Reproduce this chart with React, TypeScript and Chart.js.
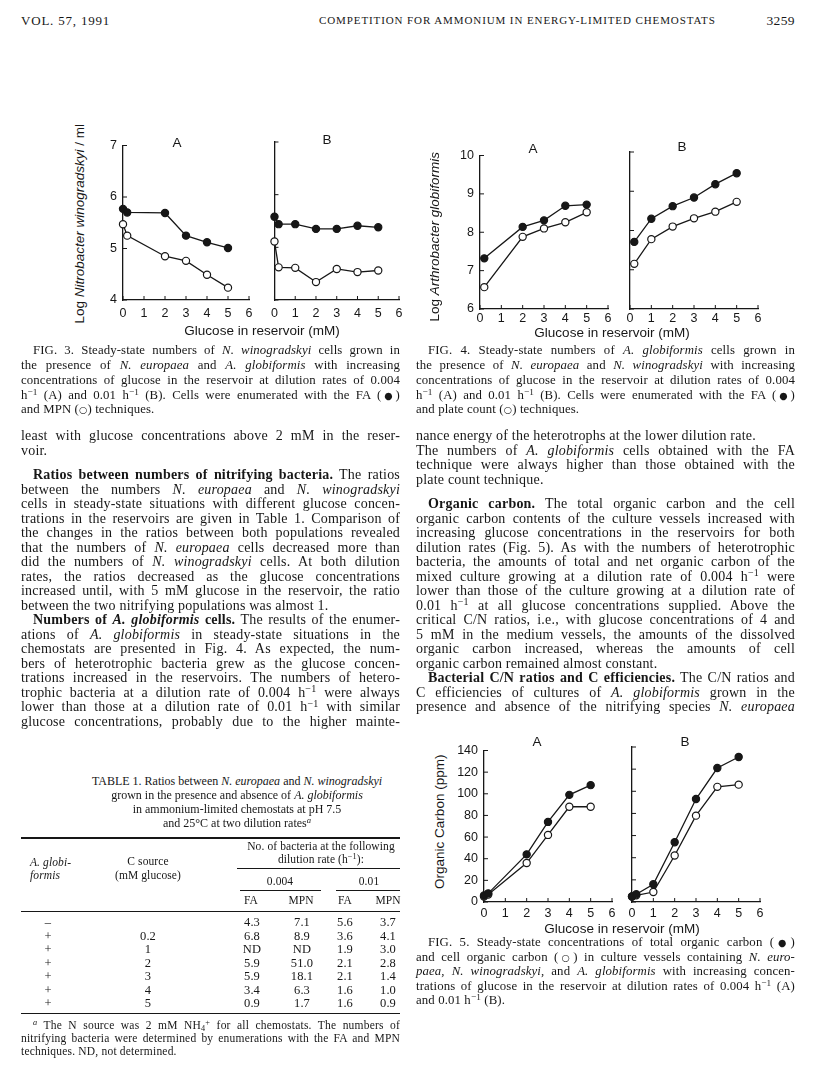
import React, { useEffect, useRef } from "react";
import { Chart, registerables } from "chart.js";
Chart.register(...registerables);

const SERIF = '"Liberation Serif", "Times New Roman", serif';
const SANS = '"Liberation Sans", Arial, sans-serif';
const INK = "#171717";

// ---------------- data ----------------
const glucoseTicks = [0, 1, 2, 3, 4, 5, 6];
const fig3YTicks = [4, 5, 6, 7];
const fig4YTicks = [6, 7, 8, 9, 10];
const fig5YTicks = [0, 20, 40, 60, 80, 100, 120, 140];

// Fig. 3  log N. winogradskyi / ml
const fig3AGlucose = [0, 0.2, 2, 3, 4, 5];
const fig3AFA = [5.77, 5.7, 5.69, 5.25, 5.12, 5.01];
const fig3AMPN = [5.47, 5.25, 4.85, 4.76, 4.49, 4.24];
const fig3BGlucose = [0, 0.2, 1, 2, 3, 4, 5];
const fig3BFA = [5.58, 5.44, 5.44, 5.35, 5.35, 5.41, 5.38];
const fig3BMPN = [5.11, 4.62, 4.61, 4.34, 4.59, 4.53, 4.56];

// Fig. 4  log A. globiformis
const fig4AGlucose = [0.2, 2, 3, 4, 5];
const fig4AFA = [7.32, 8.14, 8.31, 8.69, 8.72];
const fig4APlate = [6.57, 7.88, 8.1, 8.26, 8.52];
const fig4BGlucose = [0.2, 1, 2, 3, 4, 5];
const fig4BFA = [7.71, 8.3, 8.62, 8.84, 9.18, 9.46];
const fig4BPlate = [7.15, 7.78, 8.1, 8.31, 8.48, 8.73];

// Fig. 5  organic carbon (ppm)
const fig5AGlucose = [0, 0.2, 2, 3, 4, 5];
const fig5ATotal = [6, 8, 44, 74, 99, 108];
const fig5ACell = [5, 7, 36, 62, 88, 88];
const fig5BGlucose = [0, 0.2, 1, 2, 3, 4, 5];
const fig5BTotal = [5, 7, 16, 54, 93, 121, 131];
const fig5BCell = [5, 6, 9, 42, 78, 104, 106];

// Table 1
const tableAglob = ["\u2013", "+", "+", "+", "+", "+", "+"];
const tableGlucose = ["", "0.2", "1", "2", "3", "4", "5"];
const tableFA004 = ["4.3", "6.8", "ND", "5.9", "5.9", "3.4", "0.9"];
const tableMPN004 = ["7.1", "8.9", "ND", "51.0", "18.1", "6.3", "1.7"];
const tableFA001 = ["5.6", "3.6", "1.9", "2.1", "2.1", "1.6", "1.6"];
const tableMPN001 = ["3.7", "4.1", "3.0", "2.8", "1.4", "1.0", "0.9"];

// ---------------- chart panel ----------------
const inwardTicks = {
  id: "inwardTicks",
  afterDraw(chart: any) {
    const { ctx, chartArea, scales } = chart;
    ctx.save();
    ctx.strokeStyle = INK;
    ctx.lineWidth = 1;
    ctx.beginPath();
    scales.x.ticks.forEach((t: any) => {
      const px = scales.x.getPixelForValue(t.value);
      ctx.moveTo(px, chartArea.bottom);
      ctx.lineTo(px, chartArea.bottom - 4);
    });
    scales.y.ticks.forEach((t: any) => {
      const py = scales.y.getPixelForValue(t.value);
      ctx.moveTo(chartArea.left, py);
      ctx.lineTo(chartArea.left + 4, py);
    });
    ctx.stroke();
    ctx.restore();
  },
};

type Series = { xs: number[]; ys: number[]; filled: boolean };

function Panel(props: {
  left: number; top: number; right: number; bottom: number;
  yMin: number; yMax: number; yTicks: number[]; showY: boolean; series: Series[]; xPad: number;
}) {
  const { left, top, right, bottom, yMin, yMax, yTicks, showY, series, xPad } = props;
  const ref = useRef<HTMLCanvasElement>(null);
  const ML = showY ? 46 : 8, MT = 10, MR = 10, MB = 26;
  const w = right - left + ML + MR;
  const h = bottom - top + MT + MB;
  useEffect(() => {
    const chart = new Chart(ref.current as HTMLCanvasElement, {
      type: "line",
      data: {
        datasets: series.map((s) => ({
          data: s.xs.map((x, i) => ({ x, y: s.ys[i] })),
          borderColor: INK,
          borderWidth: 1.3,
          pointRadius: 3.6,
          pointBackgroundColor: s.filled ? INK : "#ffffff",
          pointBorderColor: INK,
          pointBorderWidth: 1.2,
          tension: 0,
          fill: false,
          clip: false,
        })),
      },
      options: {
        animation: false,
        responsive: false,
        maintainAspectRatio: false,
        layout: { padding: { left: 0, top: MT, right: MR, bottom: 0 } },
        plugins: { legend: { display: false }, tooltip: { enabled: false } },
        scales: {
          x: {
            type: "linear",
            min: 0,
            max: 6,
            afterFit: (s: any) => { s.height = MB; },
            afterBuildTicks: (s: any) => { s.ticks = glucoseTicks.map((v) => ({ value: v })); },
            ticks: { color: INK, font: { family: SANS, size: 12.5 }, padding: xPad, maxRotation: 0, autoSkip: false },
            grid: { display: false, drawTicks: false },
            border: { display: true, color: INK, width: 1.3 },
          },
          y: {
            type: "linear",
            min: yMin,
            max: yMax,
            afterFit: (s: any) => { s.width = ML; },
            afterBuildTicks: (s: any) => { s.ticks = yTicks.map((v) => ({ value: v })); },
            ticks: { display: showY, color: INK, font: { family: SANS, size: 12.5 }, padding: 6, autoSkip: false },
            grid: { display: false, drawTicks: false },
            border: { display: true, color: INK, width: 1.3 },
          },
        },
      } as any,
      plugins: [inwardTicks],
    });
    return () => chart.destroy();
  }, []);
  return (
    <canvas
      ref={ref}
      width={w}
      height={h}
      style={{ position: "absolute", left: left - ML, top: top - MT, width: w, height: h }}
    />
  );
}

// ---------------- text helpers ----------------
function Ln(props: { x: number; y: number; w?: number; s?: number; ls?: number; j?: boolean; ind?: number; center?: boolean; children?: any; style?: any }) {
  const { x, y, w = 379, s = 14, ls = 0.2, j = false, ind = 0, center = false, children, style } = props;
  const align = center ? "center" : j ? "justify" : "left";
  return (
    <div
      style={{
        position: "absolute",
        left: x,
        top: y - 0.61 * s,
        width: w,
        boxSizing: "border-box",
        paddingLeft: ind,
        fontFamily: SERIF,
        fontSize: s,
        letterSpacing: ls,
        lineHeight: s + "px",
        whiteSpace: "nowrap",
        textAlign: align as any,
        textAlignLast: align as any,
        color: INK,
        ...style,
      }}
    >
      {children}
    </div>
  );
}

const Sup = (p: { children: any }) => (
  <span style={{ fontSize: "0.72em", position: "relative", top: "-0.45em", lineHeight: 0 }}>{p.children}</span>
);
const Sub = (p: { children: any }) => (
  <span style={{ fontSize: "0.72em", position: "relative", top: "0.25em", lineHeight: 0 }}>{p.children}</span>
);
const h1 = <>h<Sup>{"\u22121"}</Sup></>;
const FILLED = <span style={{ fontFamily: "DejaVu Sans", fontSize: "0.75em" }}>{"\u25CF"}</span>;
const OPEN = <span style={{ fontFamily: "DejaVu Sans", fontSize: "0.75em" }}>{"\u25CB"}</span>;

function RotLabel(p: { cx: number; cy: number; len: number; s?: number; children: any }) {
  const s = p.s || 13.5;
  return (
    <div
      style={{
        position: "absolute",
        left: p.cx - p.len / 2,
        top: p.cy - s / 2,
        width: p.len,
        height: s,
        lineHeight: s + "px",
        fontFamily: SANS,
        fontSize: s,
        textAlign: "center",
        whiteSpace: "nowrap",
        transform: "rotate(-90deg)",
        transformOrigin: "50% 50%",
        color: INK,
      }}
    >
      {p.children}
    </div>
  );
}

function SansLabel(p: { cx: number; cy: number; s?: number; children: any }) {
  const s = p.s || 13.5;
  return (
    <div
      style={{
        position: "absolute",
        left: p.cx - 150,
        top: p.cy - s / 2,
        width: 300,
        lineHeight: s + "px",
        fontFamily: SANS,
        fontSize: s,
        textAlign: "center",
        whiteSpace: "nowrap",
        color: INK,
      }}
    >
      {p.children}
    </div>
  );
}

function Rule(p: { x1: number; x2: number; y: number; t?: number }) {
  return <div style={{ position: "absolute", left: p.x1, top: p.y, width: p.x2 - p.x1, height: p.t || 1, background: INK }} />;
}

function Cell(p: { cx: number; y: number; s?: number; children: any; italic?: boolean; left?: boolean }) {
  const s = p.s || 12.5;
  return (
    <div
      style={{
        position: "absolute",
        left: p.left ? p.cx : p.cx - 120,
        top: p.y - 0.61 * s,
        width: 240,
        textAlign: p.left ? "left" : "center",
        fontFamily: SERIF,
        fontSize: s,
        letterSpacing: 0.1,
        lineHeight: s + "px",
        whiteSpace: "nowrap",
        fontStyle: p.italic ? "italic" : "normal",
        color: INK,
      }}
    >
      {p.children}
    </div>
  );
}

// ---------------- page ----------------
export default function App() {
  const L = 21, R = 416;
  const CS = 12.8, CL = 0.12;
  const HS = 11.5;
  const rowYs = [924, 938, 951, 965, 978, 992, 1005];
  return (
    <div style={{ position: "absolute", left: 0, top: 0, width: 816, height: 1080, background: "#fff", overflow: "hidden" }}>
      {/* running head */}
      <Ln x={21} y={22} s={13} ls={0.8} w={200}>VOL. 57, 1991</Ln>
      <Ln x={319} y={22} s={11} ls={0.9} w={420}>COMPETITION FOR AMMONIUM IN ENERGY-LIMITED CHEMOSTATS</Ln>
      <Ln x={695} y={22} s={13.5} ls={0.4} w={100} style={{ textAlign: "right", textAlignLast: "right" }}>3259</Ln>

      {/* Fig. 3 */}
      <RotLabel cx={80} cy={224} len={240}>Log <i>Nitrobacter winogradskyi</i> / ml</RotLabel>
      <Panel left={123} right={249} top={142} bottom={300} yMin={4} yMax={7} yTicks={fig3YTicks} showY={true} xPad={6}
        series={[{ xs: fig3AGlucose, ys: fig3AFA, filled: true }, { xs: fig3AGlucose, ys: fig3AMPN, filled: false }]} />
      <Panel left={273} right={399} top={142} bottom={300} yMin={4} yMax={7} yTicks={fig3YTicks} showY={false} xPad={6}
        series={[{ xs: fig3BGlucose, ys: fig3BFA, filled: true }, { xs: fig3BGlucose, ys: fig3BMPN, filled: false }]} />
      <SansLabel cx={177} cy={143}>A</SansLabel>
      <SansLabel cx={327} cy={140}>B</SansLabel>
      <SansLabel cx={262} cy={331}>Glucose in reservoir (mM)</SansLabel>

      {/* Fig. 4 */}
      <RotLabel cx={435} cy={237} len={220}>Log <i>Arthrobacter globiformis</i></RotLabel>
      <Panel left={480} right={608} top={152} bottom={309} yMin={6} yMax={10} yTicks={fig4YTicks} showY={true} xPad={2}
        series={[{ xs: fig4AGlucose, ys: fig4AFA, filled: true }, { xs: fig4AGlucose, ys: fig4APlate, filled: false }]} />
      <Panel left={630} right={758} top={152} bottom={309} yMin={6} yMax={10} yTicks={fig4YTicks} showY={false} xPad={2}
        series={[{ xs: fig4BGlucose, ys: fig4BFA, filled: true }, { xs: fig4BGlucose, ys: fig4BPlate, filled: false }]} />
      <SansLabel cx={533} cy={149}>A</SansLabel>
      <SansLabel cx={682} cy={147}>B</SansLabel>
      <SansLabel cx={612} cy={333}>Glucose in reservoir (mM)</SansLabel>

      {/* Fig. 3 caption */}
      <Ln x={L} y={352} s={CS} ls={CL} j ind={12}>FIG. 3. Steady-state numbers of <i>N. winogradskyi</i> cells grown in</Ln>
      <Ln x={L} y={367} s={CS} ls={CL} j>the presence of <i>N. europaea</i> and <i>A. globiformis</i> with increasing</Ln>
      <Ln x={L} y={382} s={CS} ls={CL} j>concentrations of glucose in the reservoir at dilution rates of 0.004</Ln>
      <Ln x={L} y={397} s={CS} ls={CL} j>{h1} (A) and 0.01 {h1} (B). Cells were enumerated with the FA ({FILLED})</Ln>
      <Ln x={L} y={411} s={CS} ls={CL}>and MPN ({OPEN}) techniques.</Ln>

      {/* Fig. 4 caption */}
      <Ln x={R} y={352} s={CS} ls={CL} j ind={12}>FIG. 4. Steady-state numbers of <i>A. globiformis</i> cells grown in</Ln>
      <Ln x={R} y={367} s={CS} ls={CL} j>the presence of <i>N. europaea</i> and <i>N. winogradskyi</i> with increasing</Ln>
      <Ln x={R} y={382} s={CS} ls={CL} j>concentrations of glucose in the reservoir at dilution rates of 0.004</Ln>
      <Ln x={R} y={397} s={CS} ls={CL} j>{h1} (A) and 0.01 {h1} (B). Cells were enumerated with the FA ({FILLED})</Ln>
      <Ln x={R} y={411} s={CS} ls={CL}>and plate count ({OPEN}) techniques.</Ln>

      {/* left column body */}
      <Ln x={L} y={438} j>least with glucose concentrations above 2 mM in the reser-</Ln>
      <Ln x={L} y={452.5}>voir.</Ln>
      <Ln x={L} y={477} j ind={12}><b>Ratios between numbers of nitrifying bacteria.</b> The ratios</Ln>
      <Ln x={L} y={491.5} j>between the numbers <i>N. europaea</i> and <i>N. winogradskyi</i></Ln>
      <Ln x={L} y={506} j>cells in steady-state situations with different glucose concen-</Ln>
      <Ln x={L} y={520.5} j>trations in the reservoirs are given in Table 1. Comparison of</Ln>
      <Ln x={L} y={535} j>the changes in the ratios between both populations revealed</Ln>
      <Ln x={L} y={549.5} j>that the numbers of <i>N. europaea</i> cells decreased more than</Ln>
      <Ln x={L} y={564} j>did the numbers of <i>N. winogradskyi</i> cells. At both dilution</Ln>
      <Ln x={L} y={578.5} j>rates, the ratios decreased as the glucose concentrations</Ln>
      <Ln x={L} y={593} j>increased until, with 5 mM glucose in the reservoir, the ratio</Ln>
      <Ln x={L} y={607.5}>between the two nitrifying populations was almost 1.</Ln>
      <Ln x={L} y={622} j ind={12}><b>Numbers of <i>A. globiformis</i> cells.</b> The results of the enumer-</Ln>
      <Ln x={L} y={636.5} j>ations of <i>A. globiformis</i> in steady-state situations in the</Ln>
      <Ln x={L} y={651} j>chemostats are presented in Fig. 4. As expected, the num-</Ln>
      <Ln x={L} y={665.5} j>bers of heterotrophic bacteria grew as the glucose concen-</Ln>
      <Ln x={L} y={680} j>trations increased in the reservoirs. The numbers of hetero-</Ln>
      <Ln x={L} y={694.5} j>trophic bacteria at a dilution rate of 0.004 {h1} were always</Ln>
      <Ln x={L} y={709} j>lower than those at a dilution rate of 0.01 {h1} with similar</Ln>
      <Ln x={L} y={723.5} j>glucose concentrations, probably due to the higher mainte-</Ln>

      {/* right column body */}
      <Ln x={R} y={438}>nance energy of the heterotrophs at the lower dilution rate.</Ln>
      <Ln x={R} y={452.5} j>The numbers of <i>A. globiformis</i> cells obtained with the FA</Ln>
      <Ln x={R} y={467} j>technique were always higher than those obtained with the</Ln>
      <Ln x={R} y={481.5}>plate count technique.</Ln>
      <Ln x={R} y={506} j ind={12}><b>Organic carbon.</b> The total organic carbon and the cell</Ln>
      <Ln x={R} y={520.5} j>organic carbon contents of the culture vessels increased with</Ln>
      <Ln x={R} y={535} j>increasing glucose concentrations in the reservoirs for both</Ln>
      <Ln x={R} y={549.5} j>dilution rates (Fig. 5). As with the numbers of heterotrophic</Ln>
      <Ln x={R} y={564} j>bacteria, the amounts of total and net organic carbon of the</Ln>
      <Ln x={R} y={578.5} j>mixed culture growing at a dilution rate of 0.004 {h1} were</Ln>
      <Ln x={R} y={593} j>lower than those of the culture growing at a dilution rate of</Ln>
      <Ln x={R} y={607.5} j>0.01 {h1} at all glucose concentrations supplied. Above the</Ln>
      <Ln x={R} y={622} j>critical C/N ratios, i.e., with glucose concentrations of 4 and</Ln>
      <Ln x={R} y={636.5} j>5 mM in the medium vessels, the amounts of the dissolved</Ln>
      <Ln x={R} y={651} j>organic carbon increased, whereas the amounts of cell</Ln>
      <Ln x={R} y={665.5}>organic carbon remained almost constant.</Ln>
      <Ln x={R} y={680} j ind={12}><b>Bacterial C/N ratios and C efficiencies.</b> The C/N ratios and</Ln>
      <Ln x={R} y={694.5} j>C efficiencies of cultures of <i>A. globiformis</i> grown in the</Ln>
      <Ln x={R} y={709} j>presence and absence of the nitrifying species <i>N. europaea</i></Ln>

      {/* Fig. 5 */}
      <RotLabel cx={440} cy={822} len={200}>Organic Carbon (ppm)</RotLabel>
      <Panel left={484} right={612} top={747} bottom={902} yMin={0} yMax={140} yTicks={fig5YTicks} showY={true} xPad={4}
        series={[{ xs: fig5AGlucose, ys: fig5ATotal, filled: true }, { xs: fig5AGlucose, ys: fig5ACell, filled: false }]} />
      <Panel left={632} right={760} top={747} bottom={902} yMin={0} yMax={140} yTicks={fig5YTicks} showY={false} xPad={4}
        series={[{ xs: fig5BGlucose, ys: fig5BTotal, filled: true }, { xs: fig5BGlucose, ys: fig5BCell, filled: false }]} />
      <SansLabel cx={537} cy={742}>A</SansLabel>
      <SansLabel cx={685} cy={742}>B</SansLabel>
      <SansLabel cx={622} cy={929}>Glucose in reservoir (mM)</SansLabel>

      {/* Fig. 5 caption */}
      <Ln x={R} y={944} s={CS} ls={CL} j ind={12}>FIG. 5. Steady-state concentrations of total organic carbon ({FILLED})</Ln>
      <Ln x={R} y={958.5} s={CS} ls={CL} j>and cell organic carbon ({OPEN}) in culture vessels containing <i>N. euro-</i></Ln>
      <Ln x={R} y={973} s={CS} ls={CL} j><i>paea</i>, <i>N. winogradskyi</i>, and <i>A. globiformis</i> with increasing concen-</Ln>
      <Ln x={R} y={987.5} s={CS} ls={CL} j>trations of glucose in the reservoir at dilution rates of 0.004 {h1} (A)</Ln>
      <Ln x={R} y={1002} s={CS} ls={CL}>and 0.01 {h1} (B).</Ln>

      {/* Table 1 */}
      <Ln x={47} y={782} s={12} ls={0} w={380} center>TABLE 1. Ratios between <i>N. europaea</i> and <i>N. winogradskyi</i></Ln>
      <Ln x={47} y={796} s={12} ls={0} w={380} center>grown in the presence and absence of <i>A. globiformis</i></Ln>
      <Ln x={47} y={810} s={12} ls={0} w={380} center>in ammonium-limited chemostats at pH 7.5</Ln>
      <Ln x={47} y={824} s={12} ls={0} w={380} center>and 25°C at two dilution rates<Sup><i>a</i></Sup></Ln>
      <Rule x1={21} x2={400} y={837} t={1.5} />
      <Cell cx={321} y={848} s={HS}>No. of bacteria at the following</Cell>
      <Cell cx={321} y={861} s={HS}>dilution rate ({h1}):</Cell>
      <Rule x1={237} x2={400} y={868} />
      <Cell cx={30} y={864} s={HS} italic left>A. globi-</Cell>
      <Cell cx={30} y={877} s={HS} italic left>formis</Cell>
      <Cell cx={148} y={863} s={HS}>C source</Cell>
      <Cell cx={148} y={877} s={HS}>(mM glucose)</Cell>
      <Cell cx={280} y={883} s={HS}>0.004</Cell>
      <Cell cx={369} y={883} s={HS}>0.01</Cell>
      <Rule x1={240} x2={321} y={890} />
      <Rule x1={336} x2={400} y={890} />
      <Cell cx={251} y={902} s={HS}>FA</Cell>
      <Cell cx={301} y={902} s={HS}>MPN</Cell>
      <Cell cx={345} y={902} s={HS}>FA</Cell>
      <Cell cx={388} y={902} s={HS}>MPN</Cell>
      <Rule x1={21} x2={400} y={911} />
      {rowYs.map((y, i) => (
        <React.Fragment key={i}>
          <Cell cx={48} y={y}>{tableAglob[i]}</Cell>
          <Cell cx={148} y={y}>{tableGlucose[i]}</Cell>
          <Cell cx={252} y={y}>{tableFA004[i]}</Cell>
          <Cell cx={302} y={y}>{tableMPN004[i]}</Cell>
          <Cell cx={345} y={y}>{tableFA001[i]}</Cell>
          <Cell cx={388} y={y}>{tableMPN001[i]}</Cell>
        </React.Fragment>
      ))}
      <Rule x1={21} x2={400} y={1013} t={1.2} />
      <Ln x={L} y={1027} s={11.5} ls={0.2} j ind={12}><Sup><i>a</i></Sup> The N source was 2 mM NH<Sub>4</Sub><Sup>+</Sup> for all chemostats. The numbers of</Ln>
      <Ln x={L} y={1040} s={11.5} ls={0.2} j>nitrifying bacteria were determined by enumerations with the FA and MPN</Ln>
      <Ln x={L} y={1053} s={11.5} ls={0.2}>techniques. ND, not determined.</Ln>
    </div>
  );
}
